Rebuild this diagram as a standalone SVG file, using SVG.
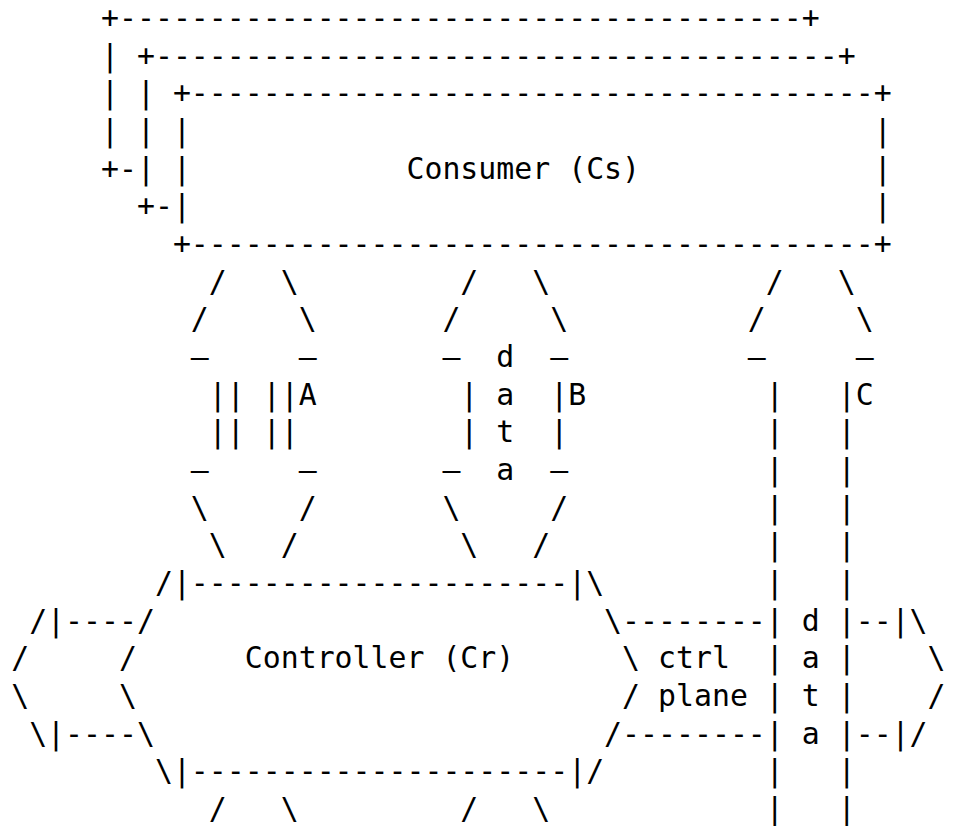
<svg xmlns="http://www.w3.org/2000/svg" width="953" height="826" viewBox="0 0 953 826" xml:space="preserve">
  <style>
    .art { font-family: "DejaVu Sans Mono", "Liberation Mono", monospace; font-size: 29.85px; fill: #000; white-space: pre; }
  </style>
  <rect width="953" height="826" fill="#fff"/>
  <!-- Consumer / Controller figure, one text row per line, 37.68px apart -->
  <g id="figure" class="art">
    <text xml:space="preserve" x="11.2" y="27.8">     +--------------------------------------+</text>
    <text xml:space="preserve" x="11.2" y="65.5">     | +--------------------------------------+</text>
    <text xml:space="preserve" x="11.2" y="103.2">     | | +--------------------------------------+</text>
    <text xml:space="preserve" x="11.2" y="140.8">     | | |                                      |</text>
    <text xml:space="preserve" x="11.2" y="178.5">     +-| |            Consumer (Cs)             |</text>
    <text xml:space="preserve" x="11.2" y="216.2">       +-|                                      |</text>
    <text xml:space="preserve" x="11.2" y="253.9">         +--------------------------------------+</text>
    <text xml:space="preserve" x="11.2" y="291.6">           /   \         /   \            /   \</text>
    <text xml:space="preserve" x="11.2" y="329.2">          /     \       /     \          /     \</text>
    <text xml:space="preserve" x="11.2" y="366.9">          –     –       –  d  –          –     –</text>
    <text xml:space="preserve" x="11.2" y="404.6">           || ||A        | a  |B          |   |C</text>
    <text xml:space="preserve" x="11.2" y="442.3">           || ||         | t  |           |   |</text>
    <text xml:space="preserve" x="11.2" y="480.0">          –     –       –  a  –           |   |</text>
    <text xml:space="preserve" x="11.2" y="517.6">          \     /       \     /           |   |</text>
    <text xml:space="preserve" x="11.2" y="555.3">           \   /         \   /            |   |</text>
    <text xml:space="preserve" x="11.2" y="593.0">        /|---------------------|\         |   |</text>
    <text xml:space="preserve" x="11.2" y="630.7"> /|----/                         \--------| d |--|\</text>
    <text xml:space="preserve" x="11.2" y="668.4">/     /      Controller (Cr)      \ ctrl  | a |    \</text>
    <text xml:space="preserve" x="11.2" y="706.0">\     \                           / plane | t |    /</text>
    <text xml:space="preserve" x="11.2" y="743.7"> \|----\                         /--------| a |--|/</text>
    <text xml:space="preserve" x="11.2" y="781.4">        \|---------------------|/         |   |</text>
    <text xml:space="preserve" x="11.2" y="819.1">           /   \         /   \            |   |</text>
  </g>
</svg>
